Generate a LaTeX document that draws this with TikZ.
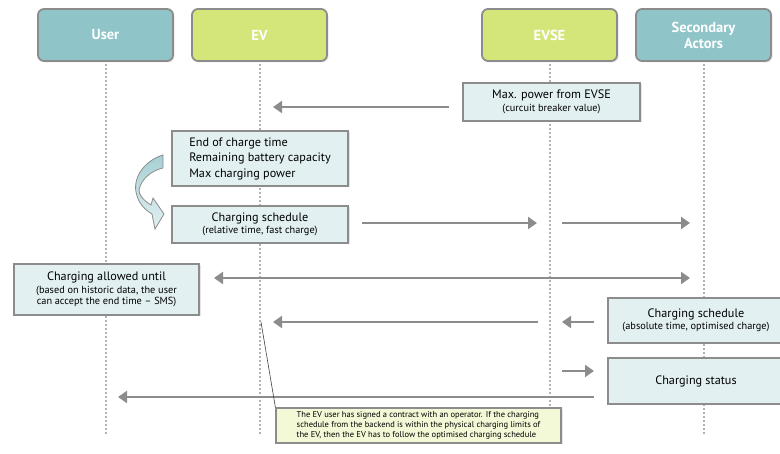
\documentclass[tikz,border=0pt]{standalone}
\usepackage{fontspec}
\setmainfont{PT Sans}
\usetikzlibrary{arrows.meta, positioning, shadows}

\definecolor{actorteal}{RGB}{143,196,201}
\definecolor{actorlime}{RGB}{212,230,122}
\definecolor{boxblue}{RGB}{226,240,242}
\definecolor{notegreen}{RGB}{243,248,214}
\definecolor{rimgray}{RGB}{140,140,140}

\newcommand\subline[1]{{\fontsize{10.3}{11.5}\selectfont #1}}

\tikzset{
  actor/.style={draw=rimgray, line width=1.8pt, rounded corners=6pt,
    minimum width=135pt, minimum height=52pt, text=white, align=center,
    font=\bfseries\fontsize{14.5}{16}\selectfont,
    drop shadow={opacity=0.2, shadow xshift=1.5pt, shadow yshift=-1.5pt}},
  msgbox/.style={draw=rimgray, line width=1.2pt, fill=boxblue, align=center,
    inner sep=2pt, font=\fontsize{12.2}{15.5}\selectfont,
    drop shadow={opacity=0.2, shadow xshift=1.5pt, shadow yshift=-1.5pt}},
  lifeline/.style={draw=black!30, line width=2pt, dash pattern=on 2pt off 2pt},
  msg/.style={draw=black!45, line width=2pt, -{Triangle[length=9pt,width=12pt]}},
}

\begin{document}
\begin{tikzpicture}[x=1pt, y=-1pt]
    \useasboundingbox (0,0) rectangle (780,454);

    % actors
    \node (user) [actor, fill=actorteal] at (105.5,35) {User};
    \node (ev)   [actor, fill=actorlime] at (259.5,35) {EV};
    \node (evse) [actor, fill=actorlime] at (549.5,35) {EVSE};
    \node (sec)  [actor, fill=actorteal] at (703.5,35) {Secondary\\Actors};

    % lifelines
    \coordinate (bottom) at (0,435);
    \foreach \a in {user, ev, evse, sec}
        \draw [lifeline] ([yshift=-2pt]\a.south) -- (\a.south |- bottom);

    % messages
    \node (maxpow) [msgbox, minimum width=177pt, minimum height=38pt] at (551.5,102)
        {Max. power from EVSE\\[-3pt]\subline{(curcuit breaker value)}};
    \node (endcharge) [msgbox, align=left, minimum width=176pt, minimum height=55pt] at (260,158.5)
        {End of charge time\\Remaining battery capacity\\Max charging power};
    \node (relsched) [msgbox, minimum width=176pt, minimum height=37pt] at (260,224.5)
        {Charging schedule\\[-3pt]\subline{(relative time, fast charge)}};
    \node (allowed) [msgbox, minimum width=185pt, minimum height=51pt] at (106.5,289.5)
        {Charging allowed until\\[-3pt]\subline{(based on historic data, the user}\\[-4pt]\subline{can accept the end time -- SMS)}};
    \node (abssched) [msgbox, minimum width=176pt, minimum height=45pt] at (696,320.5)
        {Charging schedule\\[-3pt]\subline{(absolute time, optimised charge)}};
    \node (status) [msgbox, minimum width=176pt, minimum height=46pt] at (696,381)
        {Charging status};
    \node (note) [msgbox, fill=notegreen, align=left, inner sep=3pt,
        minimum width=285pt, minimum height=35pt,
        font=\fontsize{8.5}{9.8}\selectfont] at (418.5,425.5)
        {The EV user has signed a contract with an operator. If the charging\\
         schedule from the backend is within the physical charging limits of\\
         the EV, then the EV has to follow the optimised charging schedule};

    % arrow ends
    \coordinate (m1a) at (449,107);  \coordinate (m1b) at (273,107);
    \coordinate (m2a) at (362,223);  \coordinate (m2b) at (537,223);
    \coordinate (m3a) at (562,223);  \coordinate (m3b) at (690,223);
    \coordinate (m4a) at (690,278);  \coordinate (m4b) at (214,278);
    \coordinate (m5a) at (538,322);  \coordinate (m5b) at (273,322);
    \coordinate (m6a) at (594,322);  \coordinate (m6b) at (562,322);
    \coordinate (m7a) at (562,371);  \coordinate (m7b) at (594,371);
    \coordinate (m8a) at (594,397);  \coordinate (m8b) at (118,397);
    \coordinate (pin) at (261,322);

    \draw [msg] (m1a) -- (m1b);
    \draw [msg] (m2a) -- (m2b);
    \draw [msg] (m3a) -- (m3b);
    \draw [msg, {Triangle[length=9pt,width=12pt]}-{Triangle[length=9pt,width=12pt]}] (m4a) -- (m4b);
    \draw [msg] (m5a) -- (m5b);
    \draw [msg] (m6a) -- (m6b);
    \draw [msg] (m7a) -- (m7b);
    \draw [msg] (m8a) -- (m8b);
    \draw [black!75, line width=0.6pt] (pin) -- (note.north west);

    % curved arrow from inputs to schedule
    \draw [rimgray, line width=0.8pt, top color=actorteal!80, bottom color=boxblue]
        (163,155) .. controls (146,160) and (133,176) .. (136,192)
        .. controls (138,203) and (145,210) .. (152,214)
        -- (155,229) -- (164,214) -- (153,198)
        -- (151,205) .. controls (143,200) and (139,195) .. (139,190)
        .. controls (141,180) and (150,171) .. (163,168) -- cycle;
\end{tikzpicture}
\end{document}
